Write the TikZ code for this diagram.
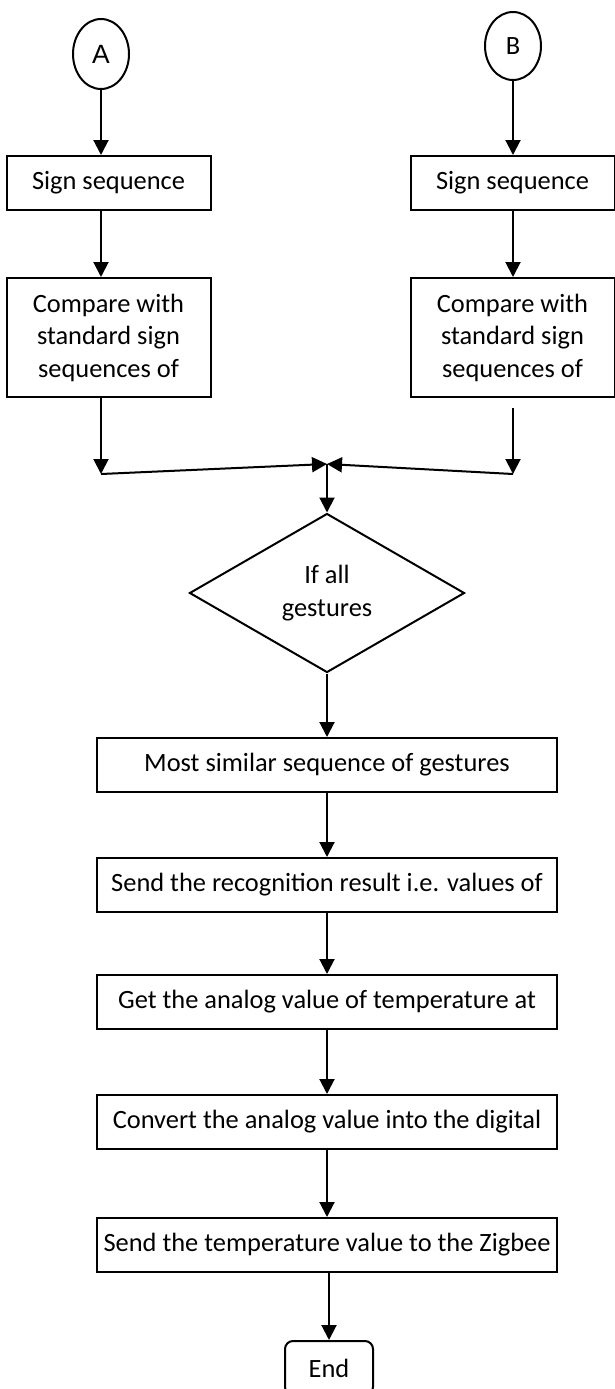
\documentclass[tikz,border=0pt]{standalone}
\usepackage{fontspec}
\setmainfont{Carlito}
\newfontfamily\labelfont{Liberation Sans}
\usetikzlibrary{shapes.geometric,arrows.meta}

\begin{document}
\begin{tikzpicture}[x=1pt,y=-1pt,
    font=\fontsize{26.4}{32.5}\selectfont,
    every node/.style={line width=2pt},
    term/.style={draw,ellipse,minimum width=56pt,minimum height=70pt,inner sep=0pt},
    stepbox/.style={draw,rectangle,inner sep=0pt,minimum height=54pt,align=center},
    sidebox/.style={stepbox,minimum width=204pt},
    widebox/.style={stepbox,minimum width=460pt},
    test/.style={draw,diamond,inner sep=0pt,minimum width=275pt,minimum height=159pt,align=center},
    arr/.style={line width=2pt,-{Triangle[length=15pt,width=15pt]}}]
  \useasboundingbox (0,0) rectangle (614,1389);

  % two entry branches
  \node[term] (A) at (101,54) {\labelfont A};
  \node[term,minimum height=68pt] (B) at (513,46) {B};
  \node[sidebox] (A1) at (108.5,183) {Sign sequence};
  \node[sidebox] (B1) at (512.5,183) {Sign sequence};
  \node[sidebox,minimum height=119pt] (A2) at (108.5,337.5)
    {Compare with\\standard sign\\sequences of};
  \node[sidebox,minimum height=119pt] (B2) at (512.5,337.5)
    {Compare with\\standard sign\\sequences of};

  % decision and main flow
  \node[test] (check) at (327,593) {If all\\gestures};
  \node[widebox] (s1) at (327,765) {Most similar sequence of gestures};
  \node[widebox] (s2) at (327,885) {Send the recognition result i.e. values of};
  \node[widebox] (s3) at (327,1002) {Get the analog value of temperature at};
  \node[widebox] (s4) at (327,1122) {Convert the analog value into the digital};
  \node[widebox] (s5) at (327,1245) {Send the temperature value to the Zigbee};
  \node[draw,rounded corners=8pt,minimum width=88pt,minimum height=54pt,inner sep=0pt]
    (end) at (329,1368) {End};

  \coordinate (jA) at (101,474);
  \coordinate (jB) at (513,474);
  \coordinate (mid) at (327,464);

  \draw[arr] (A) -- (A |- A1.north);
  \draw[arr] (B) -- (B |- B1.north);
  \draw[arr] (A1.south -| A) -- (A2.north -| A);
  \draw[arr] (B1.south -| B) -- (B2.north -| B);
  \draw[arr] (A2.south -| A) -- (jA);
  \draw[arr,shorten <=10pt] (B2.south -| B) -- (jB);
  \draw[arr] (jA) -- (mid);
  \draw[arr] (jB) -- (mid);
  \draw[arr] (mid) -- (check.north);
  \draw[arr] (check) -- (s1);
  \draw[arr] (s1) -- (s2);
  \draw[arr] (s2) -- (s3);
  \draw[arr] (s3) -- (s4);
  \draw[arr] (s4) -- (s5);
  \draw[arr] (s5.south -| end) -- (end);
\end{tikzpicture}
\end{document}
